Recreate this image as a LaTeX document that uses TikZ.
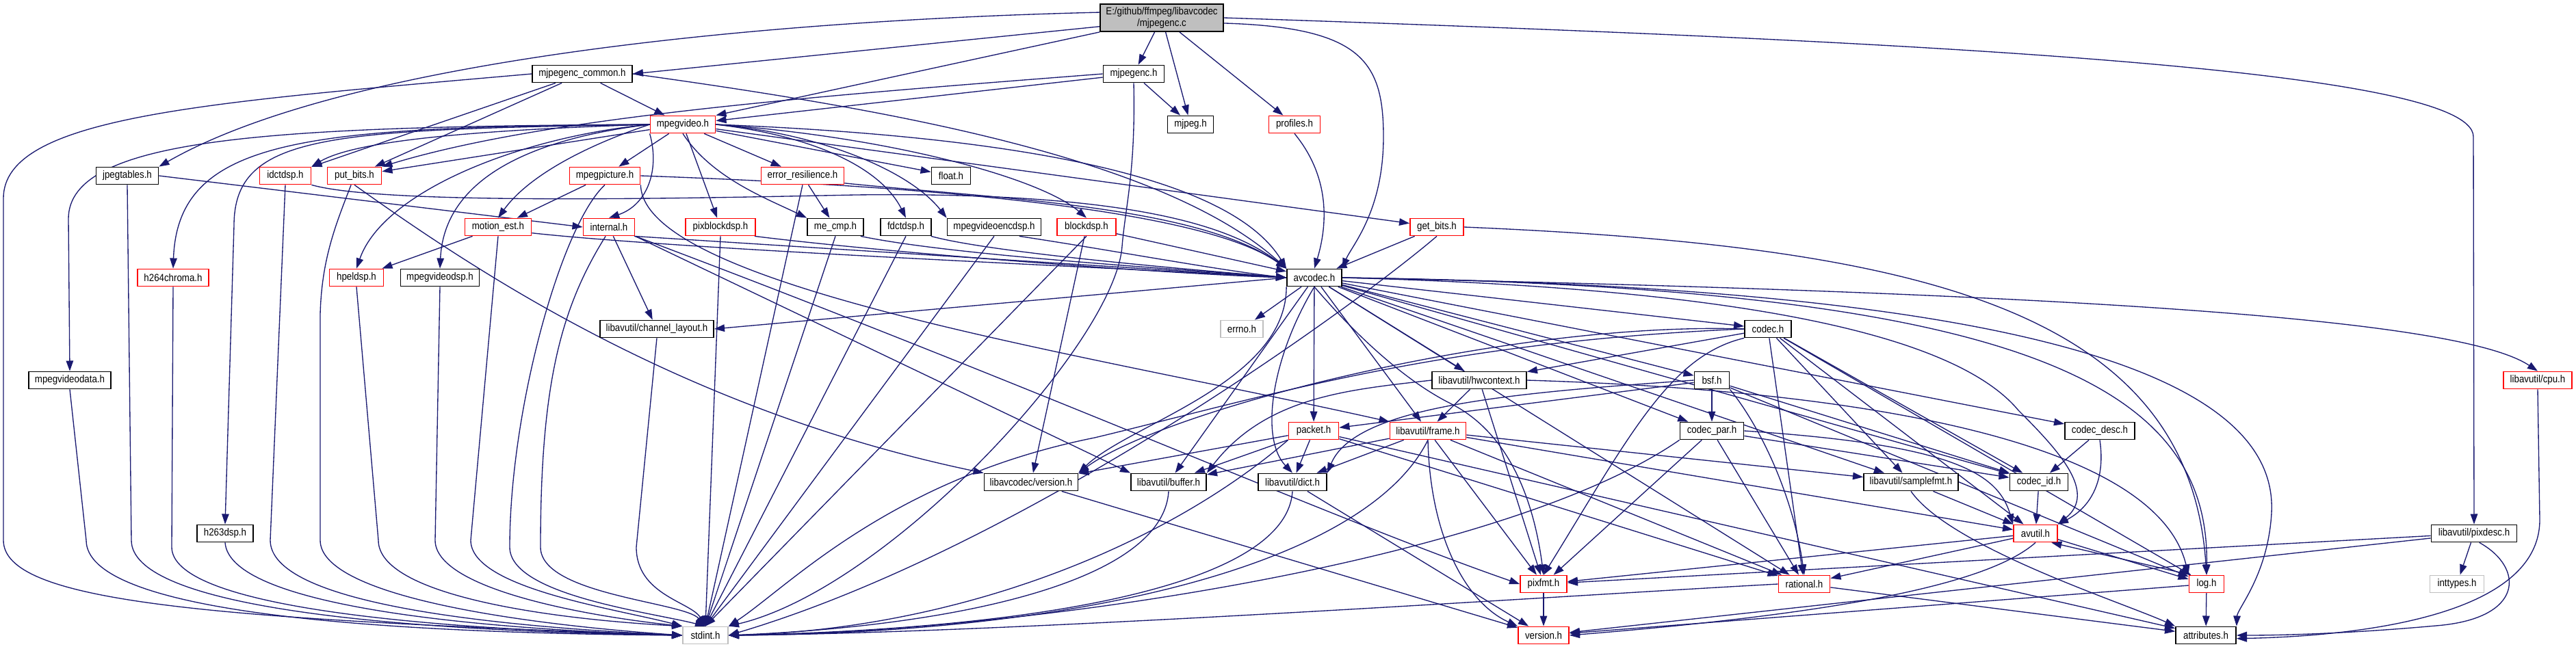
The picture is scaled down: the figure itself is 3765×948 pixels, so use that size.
\documentclass[tikz,border=0pt]{standalone}
\usepackage{fontspec}
\setmainfont{Liberation Sans}[FakeStretch=0.88]
\usetikzlibrary{arrows.meta}
\pgfdeclarelayer{background}
\pgfsetlayers{background,main}

\definecolor{depblue}{RGB}{25,25,112}
\definecolor{sysgray}{RGB}{191,191,191}

\tikzset{
    hdr/.style={draw=black, fill=white, line width=0.5pt, inner sep=0pt,
        minimum height=0.25cm, font=\fontsize{4.3pt}{4.6pt}\selectfont},
    redhdr/.style={hdr, draw=red},
    syshdr/.style={hdr, draw=sysgray},
    roothdr/.style={hdr, fill=sysgray, align=center, minimum height=0.4cm},
    wd/.style={minimum width=#1*0.01cm},
    dep/.style={draw=depblue, line width=0.38pt, -{Triangle[length=4.3pt, width=3pt]}},
}

\begin{document}
\begin{tikzpicture}[x=0.01cm, y=-0.01cm]
    \useasboundingbox (0, 0) rectangle (3765, 948);

    % 1. 源文件与上层头文件
    \node[roothdr, wd=180] (root) at (1698, 26) {E:/github/ffmpeg/libavcodec\\/mjpegenc.c};
    \node[hdr, wd=146] (mjc) at (851, 108) {mjpegenc\_common.h};
    \node[hdr, wd=89] (mjh) at (1657, 108) {mjpegenc.h};
    \node[redhdr, wd=95] (mpv) at (998, 182) {mpegvideo.h};
    \node[hdr, wd=67] (mjpeg) at (1740, 182) {mjpeg.h};
    \node[redhdr, wd=75] (profiles) at (1892, 182) {profiles.h};

    % 2. libavcodec 头文件
    \node[hdr, wd=91] (jpegtables) at (186, 257) {jpegtables.h};
    \node[redhdr, wd=75] (idctdsp) at (417, 257) {idctdsp.h};
    \node[redhdr, wd=79] (putbits) at (518, 257) {put\_bits.h};
    \node[redhdr, wd=103] (mpegpicture) at (884, 257) {mpegpicture.h};
    \node[redhdr, wd=121] (er) at (1173, 257) {error\_resilience.h};
    \node[hdr, wd=57] (floath) at (1390, 257) {float.h};
    \node[redhdr, wd=97] (motionest) at (728, 332) {motion\_est.h};
    \node[redhdr, wd=75] (internal) at (890, 332) {internal.h};
    \node[redhdr, wd=102] (pixblockdsp) at (1053, 332) {pixblockdsp.h};
    \node[hdr, wd=82] (mecmp) at (1221, 332) {me\_cmp.h};
    \node[hdr, wd=74] (fdctdsp) at (1324, 332) {fdctdsp.h};
    \node[hdr, wd=137] (mvencdsp) at (1453, 332) {mpegvideoencdsp.h};
    \node[redhdr, wd=86] (blockdsp) at (1588, 332) {blockdsp.h};
    \node[redhdr, wd=78] (getbits) at (2100, 332) {get\_bits.h};
    \node[redhdr, wd=104] (h264chroma) at (253, 406) {h264chroma.h};
    \node[redhdr, wd=79] (hpeldsp) at (521, 406) {hpeldsp.h};
    \node[hdr, wd=115] (mvdsp) at (643, 406) {mpegvideodsp.h};
    \node[hdr, wd=80] (avcodec) at (1921, 406) {avcodec.h};
    \node[hdr, wd=120] (mvdata) at (102, 556) {mpegvideodata.h};
    \node[hdr, wd=82] (h263dsp) at (329, 780) {h263dsp.h};

    % 3. avcodec.h 以下
    \node[hdr, wd=166] (chlayout) at (960, 481) {libavutil/channel\_layout.h};
    \node[syshdr, wd=62] (errno) at (1815, 481) {errno.h};
    \node[hdr, wd=68] (codec) at (2584, 481) {codec.h};
    \node[hdr, wd=138] (hwcontext) at (2162, 556) {libavutil/hwcontext.h};
    \node[hdr, wd=51] (bsf) at (2502, 556) {bsf.h};
    \node[redhdr, wd=100] (cpu) at (3709, 556) {libavutil/cpu.h};
    \node[redhdr, wd=73] (packet) at (1920, 630) {packet.h};
    \node[redhdr, wd=111] (frame) at (2087, 630) {libavutil/frame.h};
    \node[hdr, wd=93] (codecpar) at (2502, 630) {codec\_par.h};
    \node[hdr, wd=102] (codecdesc) at (3069, 630) {codec\_desc.h};
    \node[hdr, wd=137] (lcversion) at (1507, 705) {libavcodec/version.h};
    \node[hdr, wd=110] (buffer) at (1708, 705) {libavutil/buffer.h};
    \node[hdr, wd=100] (dict) at (1889, 705) {libavutil/dict.h};
    \node[hdr, wd=138] (samplefmt) at (2793, 705) {libavutil/samplefmt.h};
    \node[hdr, wd=85] (codecid) at (2980, 705) {codec\_id.h};
    \node[redhdr, wd=64] (avutil) at (2975, 780) {avutil.h};
    \node[hdr, wd=125] (pixdesc) at (3616, 780) {libavutil/pixdesc.h};
    \node[redhdr, wd=68] (pixfmt) at (2256, 854) {pixfmt.h};
    \node[redhdr, wd=75] (rational) at (2637, 854) {rational.h};
    \node[redhdr, wd=51] (logh) at (3225, 854) {log.h};
    \node[syshdr, wd=79] (inttypes) at (3591, 854) {inttypes.h};
    \node[syshdr, wd=66] (stdint) at (1031, 929) {stdint.h};
    \node[redhdr, wd=74] (version) at (2256, 929) {version.h};
    \node[hdr, wd=88] (attributes) at (3224, 929) {attributes.h};

    \begin{pgfonlayer}{background}
    % 4. mjpegenc.c
    \draw[dep] (root.188) -- (mjc.east);
    \draw[dep] (root.175) .. controls (1100, 30) and (500, 90) .. (jpegtables.north east);
    \draw[dep] (root.south west) -- (mpv.north east);
    \draw[dep] (root) -- (mjh);
    \draw[dep] (root) -- (mjpeg);
    \draw[dep] (root) -- (profiles);
    \draw[dep] (root.-5) .. controls (1990, 40) and (2022, 90) .. (2022, 200) .. controls (2022, 310) and (1975, 360) .. (avcodec.north east);
    \draw[dep] (root.east) .. controls (2800, 60) and (3615, 100) .. (3615, 200) -- (pixdesc.north);

    % 5. mjpegenc_common.h, mjpegenc.h
    \draw[dep] (mjc.west) .. controls (300, 150) and (5, 170) .. (5, 290) -- (5, 790) .. controls (5, 880) and (300, 905) .. (stdint.west);
    \draw[dep] (mjc) -- (idctdsp);
    \draw[dep] (mjc) -- (putbits);
    \draw[dep] (mjc) -- (mpv);
    \draw[dep] (mjc.east) .. controls (1300, 160) and (1700, 230) .. (avcodec.north west);
    \draw[dep] (mjh) -- (mpv);
    \draw[dep] (mjh.west) .. controls (1200, 140) and (800, 170) .. (putbits.north east);
    \draw[dep] (mjh) -- (mjpeg);
    \draw[dep] (mjh.south) .. controls (1660, 250) and (1645, 300) .. (1640, 360) .. controls (1630, 500) and (1300, 860) .. (stdint.north east);

    % 6. mpegvideo.h
    \draw[dep] (mpv.west) .. controls (400, 185) and (100, 200) .. (100, 320) -- (mvdata.north);
    \draw[dep] (mpv.west) .. controls (450, 186) and (260, 200) .. (h264chroma.north);
    \draw[dep] (mpv.west) .. controls (480, 190) and (342, 195) .. (342, 330) -- (h263dsp.north);
    \draw[dep] (mpv.west) .. controls (700, 190) and (520, 205) .. (idctdsp.north east);
    \draw[dep] (mpv) -- (putbits);
    \draw[dep] (mpv.west) .. controls (760, 200) and (560, 280) .. (hpeldsp.north);
    \draw[dep] (mpv.west) .. controls (800, 200) and (650, 250) .. (mvdsp.north);
    \draw[dep] (mpv.west) .. controls (850, 215) and (770, 260) .. (motionest.north);
    \draw[dep] (mpv) -- (mpegpicture);
    \draw[dep] (mpv.south west) .. controls (965, 250) and (945, 300) .. (internal.north);
    \draw[dep] (mpv) -- (pixblockdsp);
    \draw[dep] (mpv.south) .. controls (1040, 260) and (1120, 290) .. (mecmp.north west);
    \draw[dep] (mpv) -- (er);
    \draw[dep] (mpv) -- (floath);
    \draw[dep] (mpv.east) .. controls (1200, 200) and (1290, 250) .. (fdctdsp.north);
    \draw[dep] (mpv.east) .. controls (1200, 195) and (1330, 250) .. (mvencdsp.north west);
    \draw[dep] (mpv.east) .. controls (1300, 200) and (1520, 260) .. (blockdsp.north);
    \draw[dep] (mpv) -- (getbits);
    \draw[dep] (mpv.east) .. controls (1500, 200) and (1800, 260) .. (avcodec.north west);

    % 7. 其余 libavcodec 头文件
    \draw[dep] (jpegtables.south) -- (192, 790) .. controls (192, 885) and (550, 922) .. (stdint.west);
    \draw[dep] (jpegtables.east) -- (internal.west);
    \draw[dep] (idctdsp.south) -- (395, 790) .. controls (395, 880) and (700, 915) .. (stdint.west);
    \draw[dep] (idctdsp.south east) .. controls (560, 300) and (1000, 290) .. (1250, 285) .. controls (1650, 280) and (1800, 330) .. (avcodec.north west);
    \draw[dep] (putbits.250) .. controls (490, 330) and (470, 380) .. (468, 460) -- (468, 790) .. controls (468, 870) and (750, 912) .. (stdint.west);
    \draw[dep] (putbits.south) .. controls (700, 400) and (1000, 600) .. (lcversion.north west);
    \draw[dep] (mpegpicture) -- (motionest);
    \draw[dep] (mpegpicture.south) .. controls (820, 330) and (745, 600) .. (745, 800) .. controls (745, 870) and (950, 895) .. (stdint.north);
    \draw[dep] (mpegpicture.south east) .. controls (940, 420) and (1600, 520) .. (frame.north west);
    \draw[dep] (mpegpicture.east) .. controls (1300, 270) and (1750, 300) .. (avcodec.north west);
    \draw[dep] (er) -- (mecmp);
    \draw[dep] (er.south) -- (stdint.north);
    \draw[dep] (er.-10) .. controls (1450, 290) and (1750, 300) .. (avcodec.north west);
    \draw[dep] (motionest) -- (hpeldsp);
    \draw[dep] (motionest.south) -- (688, 790) .. controls (688, 860) and (900, 890) .. (stdint.north west);
    \draw[dep] (motionest.-10) .. controls (1000, 365) and (1600, 390) .. (avcodec.west);
    \draw[dep] (internal) -- (chlayout);
    \draw[dep] (internal.250) .. controls (820, 450) and (790, 560) .. (790, 800) .. controls (790, 870) and (1000, 880) .. (stdint.north);
    \draw[dep] (internal.-20) -- (avcodec.west);
    \draw[dep] (internal.south east) -- (buffer.north west);
    \draw[dep] (internal.south east) .. controls (1500, 560) and (1950, 760) .. (pixfmt.west);
    \draw[dep] (pixblockdsp.south) -- (stdint.north);
    \draw[dep] (pixblockdsp.-15) .. controls (1300, 370) and (1700, 400) .. (avcodec.west);
    \draw[dep] (mecmp.south) -- (stdint.north);
    \draw[dep] (mecmp.-20) .. controls (1400, 375) and (1750, 395) .. (avcodec.west);
    \draw[dep] (fdctdsp.south) -- (stdint.north);
    \draw[dep] (fdctdsp.-20) .. controls (1450, 370) and (1750, 395) .. (avcodec.west);
    \draw[dep] (mvencdsp.south) -- (stdint.north);
    \draw[dep] (mvencdsp.-20) .. controls (1620, 365) and (1780, 395) .. (avcodec.west);
    \draw[dep] (blockdsp.south) -- (stdint.north);
    \draw[dep] (blockdsp) -- (avcodec);
    \draw[dep] (blockdsp) -- (lcversion);
    \draw[dep] (getbits) -- (avcodec);
    \draw[dep] (getbits.south) .. controls (1990, 440) and (1500, 800) .. (stdint.east);
    \draw[dep] (getbits.east) .. controls (2800, 360) and (3200, 450) .. (logh.north);
    \draw[dep] (profiles.south) .. controls (1945, 260) and (1940, 330) .. (avcodec.north);
    \draw[dep] (mvdata.south) -- (126, 790) .. controls (126, 890) and (500, 925) .. (stdint.west);
    \draw[dep] (h264chroma.south) -- (251, 800) .. controls (251, 885) and (600, 920) .. (stdint.west);
    \draw[dep] (h263dsp.south) .. controls (335, 880) and (650, 918) .. (stdint.west);
    \draw[dep] (hpeldsp.south) -- (553, 790) .. controls (553, 870) and (800, 905) .. (stdint.north west);
    \draw[dep] (mvdsp.south) -- (636, 790) .. controls (636, 860) and (850, 900) .. (stdint.north west);
    \draw[dep] (chlayout.south) -- (930, 800) .. controls (930, 870) and (1010, 880) .. (stdint.north);

    % 8. avcodec.h
    \draw[dep] (avcodec) -- (errno);
    \draw[dep] (avcodec.west) -- (chlayout.east);
    \draw[dep] (avcodec) -- (buffer);
    \draw[dep] (avcodec.south west) .. controls (1880, 560) and (1650, 620) .. (lcversion.north east);
    \draw[dep] (avcodec.south) .. controls (1860, 520) and (1840, 640) .. (dict.north);
    \draw[dep] (avcodec) -- (packet);
    \draw[dep] (avcodec) -- (frame);
    \draw[dep] (avcodec) -- (hwcontext);
    \draw[dep] (avcodec) -- (bsf);
    \draw[dep] (avcodec) -- (codec);
    \draw[dep] (avcodec) -- (codecpar);
    \draw[dep] (avcodec.south) .. controls (1990, 500) and (2060, 560) .. (2120, 590) .. controls (2200, 630) and (2240, 720) .. (pixfmt.north);
    \draw[dep] (avcodec) -- (rational);
    \draw[dep] (avcodec) -- (samplefmt);
    \draw[dep] (avcodec) -- (codecid);
    \draw[dep] (avcodec) -- (codecdesc);
    \draw[dep] (avcodec.east) .. controls (2500, 420) and (2850, 480) .. (2950, 600) .. controls (3010, 660) and (3065, 720) .. (avutil.north east);
    \draw[dep] (avcodec.east) .. controls (2950, 420) and (3230, 560) .. (logh.north);
    \draw[dep] (avcodec.east) .. controls (3000, 420) and (3330, 560) .. (3320, 750) .. controls (3315, 840) and (3270, 890) .. (attributes.north east);
    \draw[dep] (avcodec.east) .. controls (3100, 430) and (3600, 470) .. (cpu.north);

    % 9. codec.h, bsf.h, hwcontext.h
    \draw[dep] (codec.west) .. controls (2100, 500) and (1850, 580) .. (1600, 640) .. controls (1300, 700) and (1150, 860) .. (stdint.north east);
    \draw[dep] (codec.west) .. controls (2200, 470) and (1700, 600) .. (lcversion.north east);
    \draw[dep] (codec) -- (hwcontext);
    \draw[dep] (codec.south west) .. controls (2440, 520) and (2380, 640) .. (pixfmt.north);
    \draw[dep] (codec) -- (rational);
    \draw[dep] (codec) -- (samplefmt);
    \draw[dep] (codec) -- (codecid);
    \draw[dep] (codec) -- (avutil);
    \draw[dep] (codec) -- (logh);
    \draw[dep] (bsf) -- (codecpar);
    \draw[dep] (bsf) -- (packet);
    \draw[dep] (bsf.west) .. controls (2200, 575) and (1980, 595) .. (dict.north east);
    \draw[dep] (bsf.south east) .. controls (2570, 620) and (2620, 720) .. (rational.north);
    \draw[dep] (bsf) -- (codecid);
    \draw[dep] (bsf) -- (logh);
    \draw[dep] (hwcontext) -- (frame);
    \draw[dep] (hwcontext) -- (pixfmt);
    \draw[dep] (hwcontext.west) .. controls (1970, 570) and (1850, 580) .. (buffer.north east);
    \draw[dep] (hwcontext.east) .. controls (2700, 570) and (3150, 640) .. (logh.north west);

    % 10. packet.h, frame.h, codec_par.h ...
    \draw[dep] (packet) -- (dict);
    \draw[dep] (packet) -- (buffer);
    \draw[dep] (packet) -- (lcversion);
    \draw[dep] (packet.south west) .. controls (1700, 800) and (1400, 920) .. (stdint.east);
    \draw[dep] (packet) -- (rational);
    \draw[dep] (packet) -- (attributes);
    \draw[dep] (frame) -- (buffer);
    \draw[dep] (frame) -- (dict);
    \draw[dep] (frame.south) .. controls (2000, 820) and (1600, 925) .. (stdint.east);
    \draw[dep] (frame) -- (pixfmt);
    \draw[dep] (frame.south) .. controls (2090, 780) and (2140, 880) .. (version.north west);
    \draw[dep] (frame) -- (rational);
    \draw[dep] (frame) -- (samplefmt);
    \draw[dep] (frame) -- (avutil);
    \draw[dep] (codecpar.south west) .. controls (2200, 820) and (1500, 925) .. (stdint.east);
    \draw[dep] (codecpar) -- (pixfmt);
    \draw[dep] (codecpar) -- (rational);
    \draw[dep] (codecpar) -- (codecid);
    \draw[dep] (codecpar.east) .. controls (2850, 650) and (2920, 690) .. (avutil.north west);
    \draw[dep] (codecdesc) -- (codecid);
    \draw[dep] (codecdesc.south) .. controls (3080, 720) and (3040, 750) .. (avutil.north east);
    \draw[dep] (codecid) -- (avutil);
    \draw[dep] (samplefmt) -- (avutil);
    \draw[dep] (samplefmt.south) .. controls (2850, 800) and (3100, 880) .. (attributes.north west);
    \draw[dep] (buffer.south) .. controls (1700, 850) and (1400, 915) .. (stdint.east);
    \draw[dep] (dict.south) .. controls (1880, 860) and (1500, 920) .. (stdint.east);
    \draw[dep] (dict) -- (version);
    \draw[dep] (lcversion) -- (version);

    % 11. libavutil 底层
    \draw[dep] (avutil) -- (pixfmt);
    \draw[dep] (avutil) -- (rational);
    \draw[dep] (avutil.south) .. controls (2900, 860) and (2650, 900) .. (version.east);
    \draw[dep] (avutil.-15) -- (logh.165);
    \draw[dep] (logh.150) -- (avutil.-30);
    \draw[dep] (logh) -- (attributes);
    \draw[dep] (logh) -- (version);
    \draw[dep] (rational.west) .. controls (2300, 870) and (1500, 925) .. (stdint.east);
    \draw[dep] (rational) -- (attributes);
    \draw[dep] (pixfmt) -- (version);
    \draw[dep] (pixdesc) -- (inttypes);
    \draw[dep] (pixdesc.-60) .. controls (3690, 830) and (3690, 905) .. (3560, 915) .. controls (3450, 925) and (3350, 929) .. (attributes.east);
    \draw[dep] (pixdesc) -- (pixfmt);
    \draw[dep] (pixdesc) -- (version);
    \draw[dep] (cpu.south) -- (3712, 760) .. controls (3712, 900) and (3450, 930) .. (attributes.-6);
    \end{pgfonlayer}
\end{tikzpicture}
\end{document}
